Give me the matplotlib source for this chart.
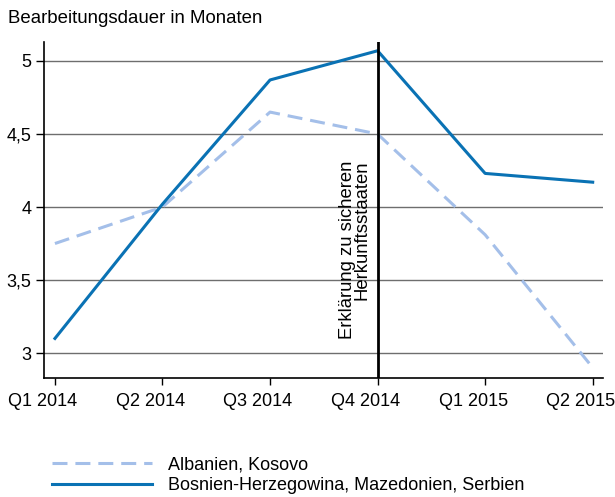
import matplotlib
matplotlib.use("Agg")
import matplotlib.pyplot as plt
from matplotlib.lines import Line2D
from matplotlib.ticker import FuncFormatter
from matplotlib.transforms import ScaledTranslation

plt.rcParams['font.family'] = ['Liberation Sans', 'DejaVu Sans']

quarters = ["Q1 2014", "Q2 2014", "Q3 2014", "Q4 2014", "Q1 2015", "Q2 2015"]
albanien_kosovo = [3.75, 4.00, 4.65, 4.50, 3.81, 2.90]
bih_mk_rs = [3.10, 4.02, 4.87, 5.07, 4.23, 4.17]
yticks = [3, 3.5, 4, 4.5, 5]
event_index = 3
event_label = "Erklärung zu sicheren\nHerkunftsstaaten"
series_names = ["Albanien, Kosovo", "Bosnien-Herzegowina, Mazedonien, Serbien"]

light_blue = "#a4bfe9"
dark_blue = "#0a72b4"
dash = (0, (4.9, 2.6))

W, H = 615, 497
fig = plt.figure(figsize=(W / 100, H / 100), dpi=100)
ax = fig.add_axes([0.0715, 0.2394, 0.9085, 0.6761])

x = list(range(len(quarters)))
for yv in yticks:
    ax.axhline(yv, color="#6e6e6e", lw=1.0, zorder=1)

ax.plot(x, albanien_kosovo, color=light_blue, lw=2.2, ls=dash, zorder=3)
ax.plot(x, bih_mk_rs, color=dark_blue, lw=2.2, zorder=4)

ax.axvline(event_index, color="black", lw=2.0, zorder=5)
ax.text(event_index - 0.07, 3.095, event_label, rotation=90, ha="right", va="bottom",
        fontsize=13.3, linespacing=0.76, zorder=6)

ax.set_xlim(-0.102, 5.093)
ax.set_ylim(2.829, 5.13)
ax.set_xticks(x)
ax.set_xticklabels(quarters)
ax.set_yticks(yticks)
ax.yaxis.set_major_formatter(FuncFormatter(lambda v, p: f"{v:g}".replace(".", ",")))
ax.tick_params(axis="both", labelsize=13, width=1.0, color="black", direction="out")
ax.tick_params(axis="x", length=5, pad=6)
ax.tick_params(axis="y", length=6, pad=3)

# shift the quarter labels slightly left so the last one stays inside the figure
shift = ScaledTranslation(-12 / 100, 0, fig.dpi_scale_trans)
for lbl in ax.get_xticklabels():
    lbl.set_transform(lbl.get_transform() + shift)

for s in ["top", "right"]:
    ax.spines[s].set_visible(False)
for s in ["left", "bottom"]:
    ax.spines[s].set_linewidth(1.2)
    ax.spines[s].set_color("black")

fig.text(0.013, 0.962, "Bearbeitungsdauer in Monaten", fontsize=13.4, va="center", ha="left")

# legend below the plot: key line followed by the series name
legend_styles = [dict(color=light_blue, ls=dash), dict(color=dark_blue, ls="-")]
row_y = [1 - 463 / H, 1 - 484 / H]
for name, style, yy in zip(series_names, legend_styles, row_y):
    fig.add_artist(Line2D([52 / W, 152 / W], [yy, yy], transform=fig.transFigure,
                          lw=2.2, **style))
    fig.text(168 / W, yy, name, fontsize=13, va="center_baseline", ha="left")

fig.savefig("out.png", dpi=100)
